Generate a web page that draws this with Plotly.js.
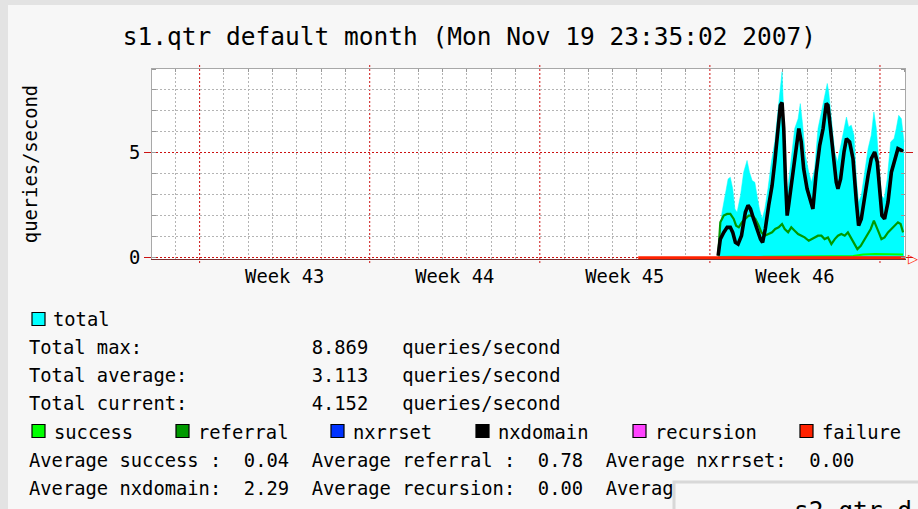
<!DOCTYPE html>
<html>
<head>
<meta charset="utf-8">
<script src="https://cdn.plot.ly/plotly-3.0.1.min.js"></script>
<style>
  html, body { margin: 0; padding: 0; background: #f7f7f7; }
  #chart { width: 918px; height: 509px; }
</style>
</head>
<body>
<div id="chart"></div>
<script>
// ---- data (time = days since Mon 22 Oct 2007 00:00) ----
const chartTitle = 's1.qtr default month (Mon Nov 19 23:35:02 2007)';
const yTitle = 'queries/second';
const weekStarts = [0, 7, 14, 21, 28];
const weekMid = [3.5, 10.5, 17.5, 24.5];
const weekLabels = ['Week 43', 'Week 44', 'Week 45', 'Week 46'];
const xRange = [-1.96, 29.03];
const yRange = [-0.06, 9];

const tTotal = [21.34,21.39,21.50,21.64,21.75,21.84,21.94,22.03,22.12,22.26,22.39,22.53,22.63,22.74,22.85,22.94,23.04,23.15,23.26,23.39,23.53,23.67,23.76,23.83,23.93,23.97,24.02,24.08,24.13,24.22,24.35,24.49,24.63,24.72,24.82,24.93,25.07,25.18,25.31,25.45,25.59,25.72,25.83,25.89,26.00,26.14,26.25,26.38,26.52,26.62,26.71,26.82,26.93,27.03,27.12,27.23,27.37,27.51,27.64,27.75,27.85,27.95,28.06,28.17,28.30,28.44,28.58,28.67,28.77,28.88,28.99];
const total = [0.10,1.05,2.17,3.13,3.76,3.84,3.29,2.33,2.17,2.97,4.08,4.64,4.08,3.68,3.60,2.97,2.33,1.85,2.33,3.29,4.56,5.52,6.63,7.43,8.39,8.87,7.43,4.88,2.97,3.44,4.72,6.16,6.63,7.35,6.32,4.88,4.08,3.60,4.24,6.16,6.95,7.75,8.31,7.91,6.63,5.04,4.56,5.36,6.16,6.71,6.24,6.32,5.84,3.76,2.65,2.97,4.08,5.20,5.84,6.95,6.16,4.56,2.97,2.81,3.76,5.52,5.68,6.16,6.79,6.63,5.52];

const tNx = [21.34,21.43,21.57,21.71,21.84,21.94,22.05,22.16,22.30,22.46,22.57,22.67,22.80,22.94,23.08,23.17,23.28,23.42,23.56,23.67,23.76,23.83,23.90,23.97,24.04,24.11,24.18,24.24,24.38,24.52,24.66,24.76,24.86,25.00,25.18,25.24,25.38,25.52,25.66,25.79,25.86,25.97,26.07,26.20,26.27,26.38,26.52,26.62,26.75,26.89,27.03,27.12,27.23,27.37,27.51,27.64,27.78,27.89,27.99,28.08,28.19,28.33,28.47,28.60,28.74,28.88,28.95];
const nxdomain = [0.10,0.89,1.21,1.45,1.45,1.21,0.73,0.65,1.05,2.17,2.50,2.33,1.85,1.37,0.89,0.73,1.37,2.49,3.44,4.56,5.52,6.48,7.27,7.40,6.16,3.76,2.01,2.49,3.76,5.20,6.16,5.52,4.24,3.29,2.65,2.33,4.08,5.36,6.16,7.35,7.27,6.16,4.88,3.60,3.29,3.76,5.04,5.68,5.52,4.72,2.65,1.53,1.85,2.97,3.92,4.72,5.04,4.56,3.13,2.01,1.85,2.65,4.08,4.56,5.20,5.12,5.07];

const tRef = [21.34,21.43,21.57,21.71,21.84,21.98,22.08,22.19,22.32,22.46,22.60,22.74,22.87,23.01,23.12,23.26,23.42,23.56,23.69,23.83,23.97,24.08,24.22,24.35,24.49,24.63,24.77,24.90,25.07,25.18,25.31,25.45,25.59,25.72,25.86,26.00,26.14,26.27,26.41,26.55,26.68,26.79,26.93,27.07,27.21,27.34,27.48,27.62,27.75,27.85,27.95,28.06,28.19,28.33,28.47,28.60,28.74,28.85,28.95];
const referral = [0.10,1.69,2.01,2.09,2.09,1.85,1.53,1.45,1.69,1.85,2.01,2.01,1.85,1.53,1.21,1.05,1.13,1.21,1.37,1.45,1.61,1.37,1.21,1.45,1.29,1.13,1.05,0.97,0.81,0.89,0.97,1.05,1.05,0.89,0.97,0.65,0.89,1.05,1.13,1.05,1.21,0.97,0.65,0.41,0.57,0.81,1.05,1.37,1.77,1.53,1.21,0.89,0.97,1.21,1.37,1.53,1.69,1.61,1.21];

const tSucc = [21.34,22.0,23.0,24.0,25.0,26.0,26.9,27.3,27.8,28.4,28.95];
const success = [0.03,0.05,0.04,0.06,0.05,0.07,0.08,0.16,0.18,0.17,0.15];

const tZero = [21.34, 28.95];
const nxrrset = [0, 0];
const recursion = [0, 0];

const tFail = [18.05, 21.34, 25.0, 29.03];
const failure = [0, 0, 0, 0];

// legend / summary text
const legendNames = ['success', 'referral', 'nxrrset', 'nxdomain', 'recursion', 'failure'];
const legendColors = ['#00ff00', '#009900', '#0033ff', '#000000', '#ff44ff', '#ff2200'];
const totalRows = [
  'Total max:               8.869   queries/second',
  'Total average:           3.113   queries/second',
  'Total current:           4.152   queries/second'
];
const avgRows = [
  'Average success :  0.04  Average referral :  0.78  Average nxrrset:  0.00',
  'Average nxdomain:  2.29  Average recursion:  0.00  Averag'
];
const nextTitle = 's2.qtr d';

// ---- layout helpers (pixel -> paper) ----
const L = 152, R = 905, T = 69, B = 259;
const px = p => (p - L) / (R - L);
const py = p => (B - p) / (B - T);
const MONO = 'DejaVu Sans Mono';
const nb = s => s.replace(/ /g, '\u00a0');
const redGrid = '#cc1111', grayGrid = '#b4b4b4';

// daily minor grid positions, skipping the week boundaries (drawn red)
const dayGrid = [];
for (let d = Math.ceil(xRange[0]); d <= xRange[1]; d++) if (weekStarts.indexOf(d) < 0) dayGrid.push(d);

const traces = [
  {x: tTotal, y: total, type: 'scatter', mode: 'lines', fill: 'tozeroy',
   fillcolor: '#00ffff', line: {color: '#00ffff', width: 0.5}, name: 'total'},
  {x: tSucc, y: success, type: 'scatter', mode: 'lines', line: {color: '#00ff00', width: 2}, name: 'success'},
  {x: tRef, y: referral, type: 'scatter', mode: 'lines', line: {color: '#009900', width: 2.2}, name: 'referral'},
  {x: tZero, y: nxrrset, type: 'scatter', mode: 'lines', line: {color: '#0033ff', width: 2}, name: 'nxrrset'},
  {x: tZero, y: recursion, type: 'scatter', mode: 'lines', line: {color: '#ff44ff', width: 2}, name: 'recursion'},
  {x: tNx, y: nxdomain, type: 'scatter', mode: 'lines', line: {color: '#000000', width: 3.6}, name: 'nxdomain'},
  {x: tFail, y: failure, type: 'scatter', mode: 'lines', line: {color: '#ff2200', width: 3}, name: 'failure',
   xaxis: 'x2'}
];

const annotations = [];
const shapes = [];
// week boundary grid lines (red dotted, crossing the frame slightly)
weekStarts.forEach(w => shapes.push({type: 'line', xref: 'x', yref: 'paper', x0: w, x1: w,
  y0: py(263), y1: py(64), line: {color: redGrid, width: 1, dash: '2px,2px'}, layer: 'between'}));

const txtFont = {family: MONO, size: 18.8, color: '#000000'};
function addText(text, x, y) {
  annotations.push({text: nb(text), xref: 'paper', yref: 'paper', x: px(x), y: py(y),
    xanchor: 'left', yanchor: 'middle', showarrow: false, font: txtFont});
}
function addBox(x, y, color) {
  shapes.push({type: 'rect', xref: 'paper', yref: 'paper', x0: px(x), x1: px(x + 13),
    y0: py(y + 6.5), y1: py(y - 6.5), fillcolor: color, line: {color: '#000000', width: 1.2}, layer: 'above'});
}
// total legend
addBox(32, 319, '#00ffff');
addText('total', 51, 319);
totalRows.forEach((r, i) => addText(r, 27, 347 + i * 28));
// legend row
const boxX = [32, 176, 331, 476, 633, 800];
legendNames.forEach((n, i) => { addBox(boxX[i], 431, legendColors[i]); addText(n, boxX[i] + 20, 432); });
avgRows.forEach((r, i) => addText(r, 27, 460 + i * 28));

// end-of-axis arrow
annotations.push({text: '\u25B7', xref: 'paper', yref: 'paper', x: px(906), y: py(258), xanchor: 'left',
  yanchor: 'middle', showarrow: false, font: {family: 'DejaVu Sans', size: 13, color: '#ff2200'}});

// page frame and the overlapping next image
shapes.push({type: 'rect', xref: 'paper', yref: 'paper', x0: px(0), x1: px(8), y0: py(509), y1: py(0),
  fillcolor: '#e3e3e3', line: {width: 0}, layer: 'below'});
shapes.push({type: 'rect', xref: 'paper', yref: 'paper', x0: px(0), x1: px(918), y0: py(5), y1: py(0),
  fillcolor: '#e3e3e3', line: {width: 0}, layer: 'below'});
shapes.push({type: 'rect', xref: 'paper', yref: 'paper', x0: px(674), x1: px(930), y0: py(520), y1: py(482),
  fillcolor: '#f7f7f7', line: {color: '#d8d8d8', width: 3}, layer: 'above'});
annotations.push({text: nextTitle, xref: 'paper', yref: 'paper', x: px(792), y: py(494), xanchor: 'left',
  yanchor: 'top', showarrow: false, font: {family: MONO, size: 24.5, color: '#000000'}});

const layout = {
  width: 918, height: 509,
  margin: {l: L, r: 918 - R, t: T, b: 509 - B, pad: 0},
  paper_bgcolor: '#f7f7f7', plot_bgcolor: '#ffffff',
  showlegend: false,
  title: {text: chartTitle, font: {family: MONO, size: 24.5, color: '#000000'},
    xref: 'container', yref: 'container', x: 469.5 / 918, xanchor: 'center', y: 1 - 36 / 509, yanchor: 'middle'},
  xaxis: {range: xRange, side: 'top', showticklabels: false, tickmode: 'array', tickvals: weekStarts,
    ticks: '', showgrid: false, zeroline: false, showline: true, linecolor: '#a8a8a8', linewidth: 1,
    minor: {tickmode: 'array', tickvals: dayGrid, showgrid: true, gridcolor: grayGrid, griddash: '2px,2px',
      ticks: 'inside', ticklen: 3, tickcolor: '#999999'}},
  xaxis2: {range: xRange, overlaying: 'x', side: 'bottom', anchor: 'y', tickmode: 'array', tickvals: weekMid,
    ticktext: weekLabels, ticks: '', showgrid: false, zeroline: false, showline: true, linecolor: '#7a3030',
    linewidth: 1, tickfont: {family: MONO, size: 18.8, color: '#000000'}},
  yaxis: {range: yRange, tickmode: 'linear', tick0: 0, dtick: 5, ticks: 'outside', ticklen: 7, tickcolor: redGrid,
    showgrid: true, gridcolor: redGrid, griddash: '2px,2px', zeroline: false, showline: true, linecolor: '#a8a8a8',
    mirror: 'ticks', tickfont: {family: MONO, size: 18.8, color: '#000000'},
    minor: {tickmode: 'linear', tick0: 0, dtick: 1, showgrid: true, gridcolor: grayGrid, griddash: '2px,2px',
      ticks: 'inside', ticklen: 4, tickcolor: '#999999'},
    title: {text: yTitle, font: {family: MONO, size: 18.8, color: '#000000'}, standoff: 86}},
  annotations: annotations,
  shapes: shapes
};

Plotly.newPlot('chart', traces, layout, {displayModeBar: false, responsive: false});
</script>
</body>
</html>
